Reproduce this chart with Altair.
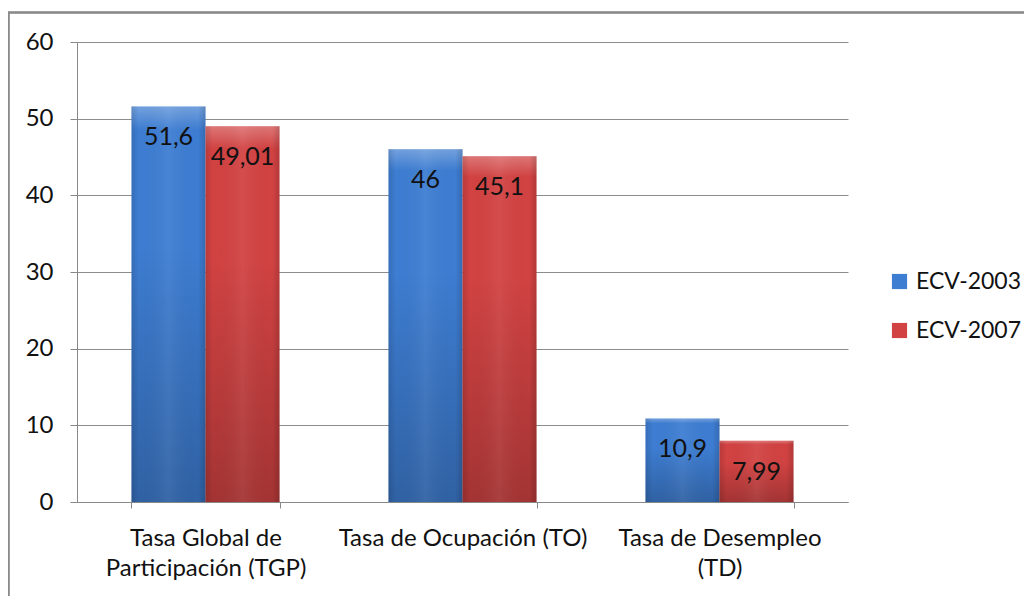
import altair as alt
import pandas as pd

categories = ["Tasa Global de Participación (TGP)", "Tasa de Ocupación (TO)", "Tasa de Desempleo (TD)"]
category_lines = [["Tasa Global de", "Participación (TGP)"], ["Tasa de Ocupación (TO)"], ["Tasa de Desempleo", "(TD)"]]
series = ["ECV-2003", "ECV-2007"]
values_2003 = [51.6, 46, 10.9]
values_2007 = [49.01, 45.1, 7.99]
y_ticks = [0, 10, 20, 30, 40, 50, 60]
colors = ["#3D7DD2", "#D24242"]

rows = []
for cat, a, b in zip(categories, values_2003, values_2007):
    for s, v in zip(series, [a, b]):
        rows.append({"cat": cat, "series": s, "value": v,
                     "label": f"{v:g}".replace(".", ",")})
df = pd.DataFrame(rows)

def lines_expr(lines):
    return "[" + ", ".join("'" + l + "'" for l in lines) + "]"

label_expr = "datum.value"
for cat, lines in zip(categories, category_lines):
    label_expr = f"datum.value == '{cat}' ? {lines_expr(lines)} : ({label_expr})"

FONT = "Lato"
W, H = 771, 460

x_enc = alt.X("cat:N", sort=categories,
              scale=alt.Scale(paddingInner=0.424, paddingOuter=0.212),
              axis=alt.Axis(title=None, labelAngle=0, tickBand="extent", labelExpr=label_expr,
                            labelFont=FONT, labelFontSize=24, labelColor="#111", labelLineHeight=30,
                            labelPadding=18, labelLimit=400, tickSize=6, domainColor="#888",
                            tickColor="#888", grid=False))
xo_enc = alt.XOffset("series:N", sort=series, scale=alt.Scale(paddingInner=0, paddingOuter=0))
y_enc = alt.Y("value:Q", scale=alt.Scale(domain=[0, 60], nice=False),
              axis=alt.Axis(title=None, values=y_ticks, grid=True, gridColor="#8c8c8c",
                            domainColor="#888", tickColor="#888", tickSize=7, labelPadding=17,
                            labelFont=FONT, labelFontSize=24, labelColor="#111"))

base = alt.Chart(df).encode(x=x_enc, xOffset=xo_enc, y=y_enc)

bars = base.mark_bar(stroke=None).encode(
    color=alt.Color("series:N", sort=series, scale=alt.Scale(domain=series, range=colors),
                    legend=alt.Legend(title=None, orient="none", legendX=811, legendY=228,
                                      symbolType="square", symbolSize=230, symbolStrokeWidth=0,
                                      labelFont=FONT, labelFontSize=23, labelColor="#111",
                                      rowPadding=25, labelOffset=5))
)

shade_v = base.mark_bar(fill=alt.Gradient(
    gradient="linear", x1=0, x2=0, y1=0, y2=1,
    stops=[alt.GradientStop(color="rgba(255,255,255,0.28)", offset=0),
           alt.GradientStop(color="rgba(255,255,255,0.0)", offset=0.06),
           alt.GradientStop(color="rgba(0,0,0,0.0)", offset=0.35),
           alt.GradientStop(color="rgba(0,0,0,0.22)", offset=1)]))

shade_h = base.mark_bar(fill=alt.Gradient(
    gradient="linear", x1=0, x2=1, y1=0, y2=0,
    stops=[alt.GradientStop(color="rgba(0,0,0,0.12)", offset=0),
           alt.GradientStop(color="rgba(0,0,0,0.0)", offset=0.1),
           alt.GradientStop(color="rgba(255,255,255,0.06)", offset=0.5),
           alt.GradientStop(color="rgba(0,0,0,0.0)", offset=0.9),
           alt.GradientStop(color="rgba(0,0,0,0.15)", offset=1)]))

text = base.mark_text(baseline="middle", align="center", dy=31, font=FONT,
                      fontSize=25, color="#111").encode(text="label:N")

frame = alt.Chart(df).mark_rect(fill=None, stroke="#8a8a8a", strokeWidth=1.5).encode(
    x=alt.value(-68.5), x2=alt.value(W + 200), y=alt.value(-29.5), y2=alt.value(H + 200))

chart = alt.layer(frame, bars, shade_v, shade_h, text).properties(
    width=W, height=H,
    padding={"left": 69, "top": 34, "right": 176, "bottom": 94},
    autosize=alt.AutoSizeParams(type="none"),
    background="white",
).configure_view(stroke=None)

chart.save("out.html", embed_options={"renderer": "svg", "actions": False})
